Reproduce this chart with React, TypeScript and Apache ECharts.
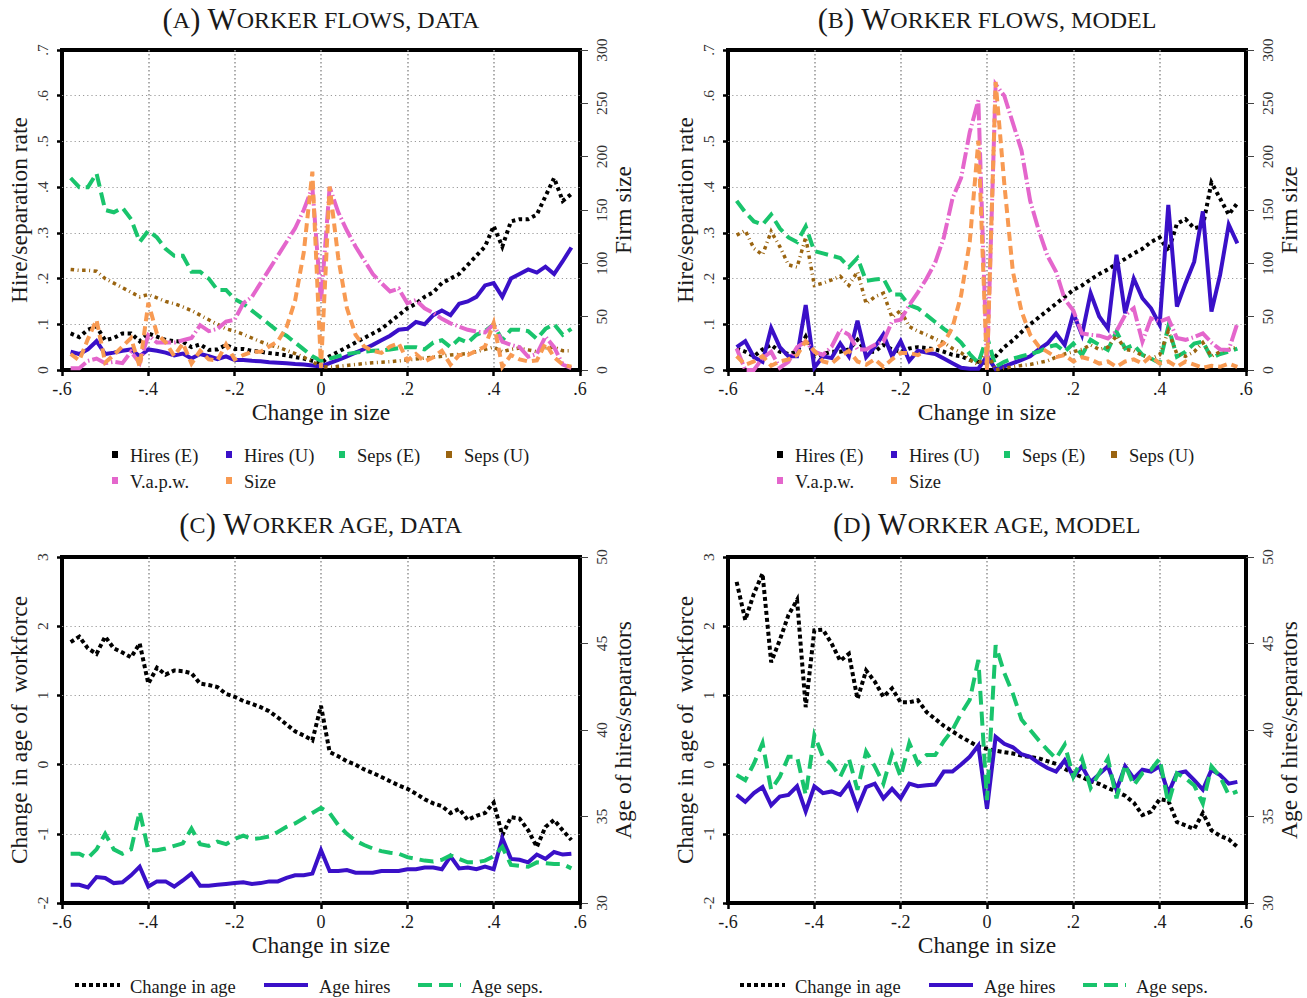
import React, { useEffect, useRef } from 'react';
import * as echarts from 'echarts';

// Bin centres of the change-in-size variable
const X = [
  -0.58, -0.56, -0.54, -0.52, -0.5, -0.48, -0.46, -0.44, -0.42, -0.4,
  -0.38, -0.36, -0.34, -0.32, -0.3, -0.28, -0.26, -0.24, -0.22, -0.2,
  -0.18, -0.16, -0.14, -0.12, -0.1, -0.08, -0.06, -0.04, -0.02, 0,
  0.02, 0.04, 0.06, 0.08, 0.1, 0.12, 0.14, 0.16, 0.18, 0.2,
  0.22, 0.24, 0.26, 0.28, 0.3, 0.32, 0.34, 0.36, 0.38, 0.4,
  0.42, 0.44, 0.46, 0.48, 0.5, 0.52, 0.54, 0.56, 0.58,
];

// (A) Worker flows, data
const hiresE_A = [
  0.080, 0.072, 0.088, 0.095, 0.065, 0.070, 0.080, 0.080, 0.063, 0.080,
  0.073, 0.066, 0.063, 0.062, 0.050, 0.056, 0.044, 0.045, 0.055, 0.046,
  0.046, 0.042, 0.040, 0.037, 0.035, 0.032, 0.028, 0.025, 0.020, 0.015,
  0.030, 0.040, 0.050, 0.060, 0.070, 0.080, 0.090, 0.105, 0.120, 0.135,
  0.145, 0.160, 0.170, 0.190, 0.200, 0.210, 0.230, 0.250, 0.270, 0.315,
  0.270, 0.325, 0.330, 0.330, 0.340, 0.380, 0.420, 0.370, 0.385,
];
const hiresU_A = [
  0.040, 0.035, 0.045, 0.063, 0.035, 0.038, 0.042, 0.045, 0.030, 0.045,
  0.042, 0.038, 0.032, 0.036, 0.025, 0.035, 0.030, 0.024, 0.030, 0.022,
  0.022, 0.020, 0.019, 0.017, 0.016, 0.015, 0.013, 0.012, 0.010, 0.008,
  0.015, 0.022, 0.030, 0.038, 0.046, 0.055, 0.065, 0.075, 0.088, 0.090,
  0.105, 0.100, 0.120, 0.130, 0.120, 0.145, 0.150, 0.160, 0.185, 0.190,
  0.160, 0.200, 0.210, 0.220, 0.213, 0.226, 0.210, 0.238, 0.268,
];
const sepsE_A = [
  0.420, 0.400, 0.400, 0.430, 0.350, 0.345, 0.355, 0.330, 0.280, 0.305,
  0.290, 0.265, 0.250, 0.250, 0.215, 0.215, 0.200, 0.175, 0.175, 0.155,
  0.145, 0.130, 0.115, 0.100, 0.085, 0.075, 0.060, 0.045, 0.030, 0.020,
  0.025, 0.030, 0.035, 0.038, 0.040, 0.042, 0.043, 0.045, 0.048, 0.050,
  0.050, 0.045, 0.060, 0.065, 0.050, 0.068, 0.060, 0.077, 0.085, 0.100,
  0.065, 0.088, 0.088, 0.085, 0.068, 0.090, 0.100, 0.077, 0.090,
];
const sepsU_A = [
  0.220, 0.218, 0.218, 0.216, 0.200, 0.190, 0.180, 0.170, 0.160, 0.165,
  0.158, 0.150, 0.145, 0.138, 0.130, 0.120, 0.110, 0.100, 0.090, 0.085,
  0.078, 0.070, 0.062, 0.055, 0.050, 0.043, 0.036, 0.028, 0.018, 0.008,
  0.006, 0.008, 0.010, 0.012, 0.014, 0.016, 0.017, 0.018, 0.020, 0.022,
  0.024, 0.026, 0.028, 0.030, 0.033, 0.034, 0.036, 0.040, 0.045, 0.050,
  0.040, 0.045, 0.048, 0.044, 0.040, 0.048, 0.050, 0.042, 0.042,
];
const vapw_A = [
  0.004, 0.004, 0.020, 0.025, 0.015, 0.018, 0.015, 0.040, 0.015, 0.076,
  0.060, 0.060, 0.060, 0.065, 0.070, 0.098, 0.085, 0.090, 0.106, 0.110,
  0.146, 0.160, 0.190, 0.220, 0.250, 0.280, 0.310, 0.350, 0.400, 0.150,
  0.400, 0.345, 0.305, 0.270, 0.240, 0.210, 0.190, 0.172, 0.178, 0.146,
  0.153, 0.135, 0.125, 0.112, 0.102, 0.095, 0.088, 0.084, 0.082, 0.100,
  0.062, 0.055, 0.050, 0.029, 0.035, 0.073, 0.050, 0.012, 0.004,
];
const size_A = [
  15, 9, 29, 47, 7, 14, 22, 30, 3, 63,
  34, 26, 13, 25, 6, 18, 10, 9, 24, 10,
  14, 17, 17, 22, 27, 40, 65, 110, 186, 2,
  172, 105, 58, 33, 22, 18, 16, 22, 25, 9,
  15, 8, 12, 18, 5, 14, 14, 18, 22, 44,
  3, 14, 10, 8, 9, 25, 12, 5, 3,
];

// (B) Worker flows, model
const hiresE_B = [
  0.047, 0.040, 0.030, 0.045, 0.055, 0.040, 0.035, 0.040, 0.073, 0.030,
  0.035, 0.040, 0.040, 0.045, 0.066, 0.040, 0.040, 0.055, 0.045, 0.040,
  0.047, 0.050, 0.048, 0.045, 0.040, 0.033, 0.030, 0.022, 0.018, 0.015,
  0.030, 0.050, 0.065, 0.083, 0.100, 0.115, 0.130, 0.145, 0.160, 0.175,
  0.185, 0.198, 0.210, 0.220, 0.232, 0.243, 0.255, 0.265, 0.280, 0.290,
  0.260, 0.320, 0.330, 0.310, 0.315, 0.410, 0.375, 0.340, 0.365,
];
const hiresU_B = [
  0.050, 0.063, 0.028, 0.018, 0.092, 0.050, 0.030, 0.030, 0.142, 0.005,
  0.030, 0.026, 0.058, 0.030, 0.108, 0.028, 0.050, 0.078, 0.030, 0.063,
  0.020, 0.042, 0.038, 0.035, 0.025, 0.015, 0.005, 0.003, 0.003, 0.030,
  0.002, 0.008, 0.015, 0.022, 0.030, 0.045, 0.058, 0.080, 0.055, 0.124,
  0.077, 0.168, 0.117, 0.091, 0.252, 0.124, 0.200, 0.157, 0.135, 0.099,
  0.361, 0.139, 0.190, 0.237, 0.347, 0.128, 0.208, 0.318, 0.277,
];
const sepsE_B = [
  0.370, 0.345, 0.325, 0.318, 0.340, 0.310, 0.290, 0.280, 0.314, 0.260,
  0.255, 0.250, 0.245, 0.225, 0.245, 0.195, 0.198, 0.200, 0.165, 0.165,
  0.142, 0.135, 0.120, 0.105, 0.090, 0.077, 0.060, 0.035, 0.015, 0.073,
  0.007, 0.018, 0.025, 0.030, 0.035, 0.040, 0.050, 0.055, 0.040, 0.058,
  0.033, 0.066, 0.055, 0.044, 0.084, 0.047, 0.055, 0.033, 0.025, 0.015,
  0.095, 0.029, 0.040, 0.058, 0.062, 0.026, 0.035, 0.040, 0.047,
];
const sepsU_B = [
  0.295, 0.305, 0.266, 0.252, 0.303, 0.270, 0.230, 0.225, 0.290, 0.185,
  0.190, 0.197, 0.205, 0.185, 0.215, 0.145, 0.160, 0.168, 0.115, 0.130,
  0.095, 0.085, 0.077, 0.068, 0.060, 0.047, 0.038, 0.022, 0.012, 0.040,
  0.000, 0.004, 0.007, 0.010, 0.012, 0.016, 0.020, 0.028, 0.035, 0.040,
  0.045, 0.055, 0.045, 0.050, 0.075, 0.045, 0.042, 0.032, 0.025, 0.033,
  0.085, 0.035, 0.030, 0.040, 0.060, 0.030, 0.040, 0.045, 0.050,
];
const vapw_B = [
  0.047, 0.000, 0.000, 0.026, 0.040, 0.005, 0.018, 0.050, 0.062, 0.040,
  0.033, 0.051, 0.088, 0.077, 0.045, 0.045, 0.055, 0.062, 0.106, 0.110,
  0.142, 0.170, 0.200, 0.235, 0.290, 0.375, 0.420, 0.520, 0.590, 0.000,
  0.625, 0.600, 0.540, 0.480, 0.370, 0.305, 0.250, 0.215, 0.155, 0.130,
  0.080, 0.077, 0.075, 0.069, 0.085, 0.120, 0.135, 0.062, 0.113, 0.106,
  0.113, 0.070, 0.066, 0.072, 0.080, 0.060, 0.045, 0.044, 0.102,
];
const size_B = [
  13, 5, 8, 13, 4, 8, 10, 14, 27, 18,
  8, 6, 13, 18, 8, 5, 10, 3, 10, 16,
  16, 14, 18, 20, 25, 40, 70, 120, 215, 0,
  270, 175, 92, 55, 33, 22, 17, 12, 14, 8,
  12, 10, 6, 8, 3, 8, 10, 6, 13, 6,
  8, 3, 8, 5, 2, 4, 3, 6, 3,
];

// (C) Worker age, data
const changeAge_C = [
  1.77, 1.85, 1.68, 1.60, 1.85, 1.68, 1.62, 1.55, 1.75, 1.17,
  1.40, 1.30, 1.36, 1.35, 1.32, 1.17, 1.15, 1.12, 1.02, 0.98,
  0.92, 0.88, 0.83, 0.77, 0.68, 0.58, 0.48, 0.42, 0.35, 0.85,
  0.18, 0.12, 0.05, 0.00, -0.07, -0.12, -0.18, -0.24, -0.30, -0.35,
  -0.42, -0.50, -0.56, -0.60, -0.70, -0.64, -0.80, -0.74, -0.70, -0.55,
  -1.02, -0.76, -0.78, -0.95, -1.19, -0.90, -0.80, -0.95, -1.09,
];
const ageHires_C = [
  31.05, 31.05, 30.90, 31.50, 31.45, 31.15, 31.20, 31.60, 32.10, 30.95,
  31.25, 31.25, 30.95, 31.30, 31.70, 31.00, 31.00, 31.05, 31.10, 31.15,
  31.20, 31.10, 31.15, 31.25, 31.25, 31.45, 31.60, 31.60, 31.70, 33.05,
  31.85, 31.85, 31.90, 31.75, 31.75, 31.75, 31.85, 31.85, 31.85, 31.95,
  31.95, 32.05, 32.05, 31.95, 32.70, 32.00, 32.05, 31.95, 32.10, 31.95,
  33.75, 32.55, 32.50, 32.35, 32.80, 32.55, 32.95, 32.80, 32.85,
];
const ageSeps_C = [
  32.85, 32.85, 32.60, 33.10, 34.00, 33.10, 32.85, 33.10, 35.30, 33.05,
  33.05, 33.15, 33.30, 33.45, 34.30, 33.40, 33.30, 33.55, 33.40, 33.70,
  33.90, 33.70, 33.75, 33.85, 34.10, 34.40, 34.60, 34.90, 35.20, 35.50,
  35.20, 34.50, 34.00, 33.60, 33.35, 33.15, 33.00, 32.90, 32.85, 32.65,
  32.55, 32.45, 32.40, 32.50, 32.75, 32.55, 32.35, 32.35, 32.45, 32.70,
  33.25, 32.20, 32.15, 32.10, 32.35, 32.30, 32.25, 32.25, 32.00,
];

// (D) Worker age, model
const changeAge_D = [
  2.64, 2.09, 2.47, 2.76, 1.48, 1.80, 2.16, 2.38, 0.83, 1.94,
  1.95, 1.75, 1.50, 1.60, 0.95, 1.36, 1.20, 0.98, 1.10, 0.90,
  0.90, 0.93, 0.76, 0.66, 0.56, 0.48, 0.40, 0.33, 0.26, 0.23,
  0.20, 0.18, 0.16, 0.13, 0.11, 0.09, 0.05, 0.01, -0.06, -0.13,
  -0.18, -0.24, -0.28, -0.34, -0.39, -0.45, -0.55, -0.73, -0.68, -0.50,
  -0.52, -0.83, -0.88, -0.93, -0.70, -0.95, -1.03, -1.08, -1.19,
];
const ageHires_D = [
  36.25, 35.85, 36.35, 36.70, 35.65, 36.15, 36.25, 36.75, 35.30, 36.75,
  36.35, 36.45, 36.25, 36.90, 35.50, 36.70, 36.90, 36.05, 36.60, 36.05,
  36.90, 36.75, 36.80, 36.85, 37.60, 37.60, 38.00, 38.45, 39.10, 35.45,
  39.60, 39.20, 39.00, 38.60, 38.45, 38.10, 37.80, 37.60, 38.25, 37.30,
  37.90, 37.00, 37.45, 37.90, 36.55, 37.90, 37.20, 37.70, 37.60, 37.90,
  36.35, 37.50, 37.60, 37.10, 36.55, 37.70, 37.40, 36.90, 37.00,
];
const ageSeps_D = [
  37.40, 37.10, 38.05, 39.25, 36.55, 37.30, 38.45, 38.45, 36.25, 39.70,
  38.45, 38.00, 37.30, 38.35, 36.55, 38.75, 37.90, 36.90, 38.65, 37.30,
  39.25, 38.05, 38.55, 38.55, 39.35, 40.00, 40.95, 41.75, 44.05, 35.95,
  44.90, 43.30, 42.10, 40.60, 40.00, 39.40, 38.85, 38.35, 39.15, 37.30,
  38.35, 36.65, 37.50, 38.35, 36.05, 38.00, 36.80, 37.50, 37.70, 38.35,
  35.75, 37.50, 37.20, 36.80, 35.75, 37.90, 37.30, 36.25, 36.45,
];

const FONT = "'Liberation Serif', 'DejaVu Serif', serif";
const INK = '#1a1a1a';

const C_BLACK = '#000000';
const C_BLUE = '#3a10c8';
const C_GREEN = '#19c46c';
const C_BROWN = '#9a6410';
const C_PINK = '#e466cc';
const C_ORANGE = '#f89a52';

type Dash = 'solid' | number[];
const ST: Record<string, { color: string; width: number; dash: Dash }> = {
  hiresE: { color: C_BLACK, width: 4, dash: [3.5, 3.5] },
  hiresU: { color: C_BLUE, width: 4, dash: 'solid' },
  sepsE: { color: C_GREEN, width: 4, dash: [13, 6] },
  sepsU: { color: C_BROWN, width: 3.5, dash: [3.5, 3.5, 1, 3.5] },
  vapw: { color: C_PINK, width: 4, dash: [17, 3, 1.5, 3] },
  size: { color: C_ORANGE, width: 4, dash: [9, 5] },
  age: { color: C_BLACK, width: 4, dash: [4, 3] },
  ageH: { color: C_BLUE, width: 4, dash: 'solid' },
  ageS: { color: C_GREEN, width: 4, dash: [14, 7] },
};

const GRIDS = [
  { left: 62, top: 50, width: 518, height: 320 },
  { left: 728, top: 50, width: 518, height: 320 },
  { left: 62, top: 557, width: 518, height: 346 },
  { left: 728, top: 557, width: 518, height: 346 },
];

const fmtDec = (v: number) => {
  if (Math.abs(v) < 1e-9) return '0';
  const s = (Math.round(v * 10) / 10).toString();
  return s.replace(/^(-?)0\./, '$1.');
};
const fmtInt = (v: number) => String(Math.round(v));

const pts = (ys: number[]) => X.map((x, i) => [x, ys[i]]);

function lineSeries(name: string, ys: number[], g: number, yi: number, key: string) {
  const s = ST[key];
  return {
    type: 'line',
    name,
    xAxisIndex: g,
    yAxisIndex: yi,
    data: pts(ys),
    symbol: 'none',
    showSymbol: false,
    silent: true,
    lineStyle: { color: s.color, width: s.width, type: s.dash, cap: 'butt', join: 'miter' },
  };
}

const NAME_STYLE = { fontFamily: FONT, fontSize: 23.5, color: INK };

function xAxis(g: number) {
  return {
    type: 'value',
    gridIndex: g,
    min: -0.6,
    max: 0.6,
    interval: 0.2,
    name: 'Change in size',
    nameLocation: 'middle',
    nameGap: 30,
    nameTextStyle: NAME_STYLE,
    axisLine: { show: false, onZero: false },
    axisTick: { show: true, length: 6, lineStyle: { color: '#000', width: 2.5 } },
    axisLabel: { fontFamily: FONT, fontSize: 18, color: INK, margin: 10, formatter: fmtDec },
    splitLine: {
      show: true,
      showMinLine: false,
      showMaxLine: false,
      lineStyle: { color: '#9a9a9a', width: 1.6, type: [1.6, 2.4] },
    },
  };
}

function yLeft(g: number, min: number, max: number, interval: number, name: string, fmt: (v: number) => string) {
  return {
    type: 'value',
    gridIndex: g,
    position: 'left',
    min,
    max,
    interval,
    name,
    nameLocation: 'middle',
    nameRotate: 90,
    nameGap: 31,
    nameTextStyle: NAME_STYLE,
    axisLine: { show: false, onZero: false },
    axisTick: { show: true, length: 5, lineStyle: { color: '#000', width: 2.5 } },
    axisLabel: { fontFamily: FONT, fontSize: 15.5, color: '#333', rotate: 90, margin: 12, formatter: fmt },
    splitLine: {
      show: true,
      showMinLine: false,
      showMaxLine: false,
      lineStyle: { color: '#9a9a9a', width: 1.2, type: [1.2, 3] },
    },
  };
}

function yRight(g: number, min: number, max: number, interval: number, name: string) {
  return {
    type: 'value',
    gridIndex: g,
    position: 'right',
    min,
    max,
    interval,
    name,
    nameLocation: 'middle',
    nameRotate: 90,
    nameGap: 31,
    nameTextStyle: NAME_STYLE,
    axisLine: { show: false, onZero: false },
    axisTick: { show: true, length: 8, lineStyle: { color: '#444', width: 1 } },
    axisLabel: { fontFamily: FONT, fontSize: 15.5, color: '#333', rotate: 90, margin: 13, formatter: fmtInt },
    splitLine: { show: false },
  };
}

// Small-caps panel heading
function heading(cx: number, cy: number, letter: string, rest: string) {
  return {
    type: 'text',
    x: cx,
    y: cy,
    silent: true,
    style: {
      text: `{n|(}{s|${letter}}{n|) W}{s|${rest}}`,
      align: 'center',
      verticalAlign: 'middle',
      fill: INK,
      rich: {
        n: { fontFamily: FONT, fontSize: 30.5, fill: INK },
        s: { fontFamily: FONT, fontSize: 24, fill: INK },
      },
    },
  };
}

const KEY_FONT = 18.5;

function squareKey(x: number, y: number, key: string, label: string) {
  return [
    { type: 'rect', silent: true, shape: { x: x - 3, y: y - 4, width: 6, height: 7 }, style: { fill: ST[key].color } },
    {
      type: 'text',
      silent: true,
      x: x + 15,
      y: y + 1,
      style: { text: label, fontFamily: FONT, fontSize: KEY_FONT, fill: INK, align: 'left', verticalAlign: 'middle' },
    },
  ];
}

function lineKey(x0: number, x1: number, tx: number, y: number, key: string, label: string) {
  const s = ST[key];
  return [
    {
      type: 'line',
      silent: true,
      shape: { x1: x0, y1: y, x2: x1, y2: y },
      style: { stroke: s.color, lineWidth: s.width, lineDash: s.dash === 'solid' ? null : s.dash },
    },
    {
      type: 'text',
      silent: true,
      x: tx,
      y: y + 2,
      style: { text: label, fontFamily: FONT, fontSize: KEY_FONT, fill: INK, align: 'left', verticalAlign: 'middle' },
    },
  ];
}

function flowKeys(dx: number) {
  return [
    ...squareKey(115 + dx, 455, 'hiresE', 'Hires (E)'),
    ...squareKey(229 + dx, 455, 'hiresU', 'Hires (U)'),
    ...squareKey(342 + dx, 455, 'sepsE', 'Seps (E)'),
    ...squareKey(449 + dx, 455, 'sepsU', 'Seps (U)'),
    ...squareKey(115 + dx, 481, 'vapw', 'V.a.p.w.'),
    ...squareKey(229 + dx, 481, 'size', 'Size'),
  ];
}

function ageKeys(dx: number) {
  return [
    ...lineKey(75 + dx, 120 + dx, 130 + dx, 985, 'age', 'Change in age'),
    ...lineKey(264 + dx, 308 + dx, 319 + dx, 985, 'ageH', 'Age hires'),
    ...lineKey(418 + dx, 461 + dx, 471 + dx, 985, 'ageS', 'Age seps.'),
  ];
}

const option = {
  animation: false,
  backgroundColor: '#ffffff',
  grid: GRIDS.map((g) => ({ ...g, show: true, borderColor: '#000', borderWidth: 4, backgroundColor: 'transparent' })),
  xAxis: [xAxis(0), xAxis(1), xAxis(2), xAxis(3)],
  yAxis: [
    yLeft(0, 0, 0.7, 0.1, 'Hire/separation rate', fmtDec),
    yRight(0, 0, 300, 50, 'Firm size'),
    yLeft(1, 0, 0.7, 0.1, 'Hire/separation rate', fmtDec),
    yRight(1, 0, 300, 50, 'Firm size'),
    yLeft(2, -2, 3, 1, 'Change in age of  workforce', fmtInt),
    yRight(2, 30, 50, 5, 'Age of hires/separators'),
    yLeft(3, -2, 3, 1, 'Change in age of  workforce', fmtInt),
    yRight(3, 30, 50, 5, 'Age of hires/separators'),
  ],
  series: [
    lineSeries('Hires (E)', hiresE_A, 0, 0, 'hiresE'),
    lineSeries('Hires (U)', hiresU_A, 0, 0, 'hiresU'),
    lineSeries('Seps (E)', sepsE_A, 0, 0, 'sepsE'),
    lineSeries('Seps (U)', sepsU_A, 0, 0, 'sepsU'),
    lineSeries('V.a.p.w.', vapw_A, 0, 0, 'vapw'),
    lineSeries('Size', size_A, 0, 1, 'size'),

    lineSeries('Hires (E)', hiresE_B, 1, 2, 'hiresE'),
    lineSeries('Hires (U)', hiresU_B, 1, 2, 'hiresU'),
    lineSeries('Seps (E)', sepsE_B, 1, 2, 'sepsE'),
    lineSeries('Seps (U)', sepsU_B, 1, 2, 'sepsU'),
    lineSeries('V.a.p.w.', vapw_B, 1, 2, 'vapw'),
    lineSeries('Size', size_B, 1, 3, 'size'),

    lineSeries('Change in age', changeAge_C, 2, 4, 'age'),
    lineSeries('Age hires', ageHires_C, 2, 5, 'ageH'),
    lineSeries('Age seps.', ageSeps_C, 2, 5, 'ageS'),

    lineSeries('Change in age', changeAge_D, 3, 6, 'age'),
    lineSeries('Age hires', ageHires_D, 3, 7, 'ageH'),
    lineSeries('Age seps.', ageSeps_D, 3, 7, 'ageS'),
  ],
  graphic: [
    heading(321, 20, 'A', 'ORKER FLOWS, DATA'),
    heading(987, 20, 'B', 'ORKER FLOWS, MODEL'),
    heading(321, 525, 'C', 'ORKER AGE, DATA'),
    heading(987, 525, 'D', 'ORKER AGE, MODEL'),
    ...flowKeys(0),
    ...flowKeys(665),
    ...ageKeys(0),
    ...ageKeys(665),
  ],
};

export default function App() {
  const ref = useRef<HTMLDivElement>(null);
  useEffect(() => {
    if (!ref.current) return;
    const chart = echarts.init(ref.current, null, { renderer: 'svg' });
    chart.setOption(option as any);
    return () => chart.dispose();
  }, []);
  return (
    <div
      ref={ref}
      style={{ position: 'absolute', left: 0, top: 0, width: 1307, height: 998, background: '#ffffff' }}
    />
  );
}
